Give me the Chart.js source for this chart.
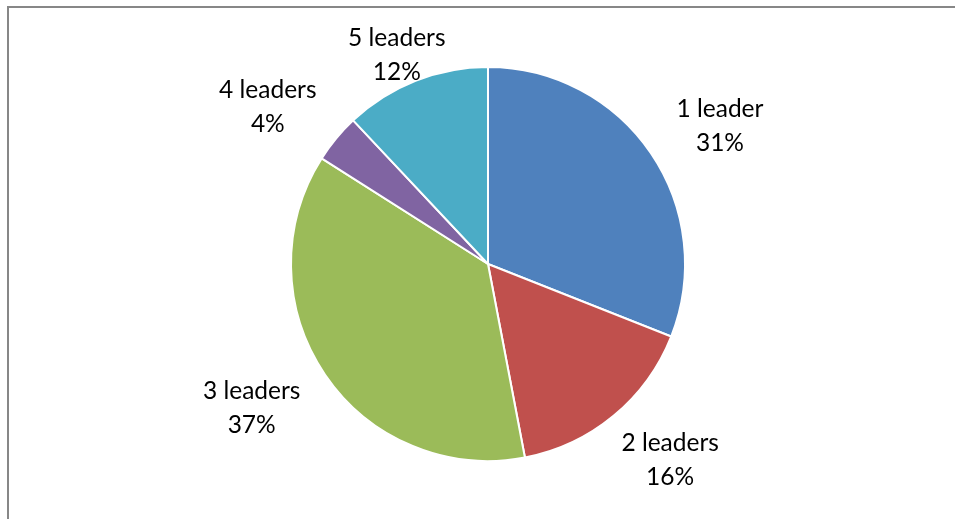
<!DOCTYPE html>
<html>
<head>
<meta charset="utf-8">
<script src="https://cdn.jsdelivr.net/npm/chart.js@4.4.0/dist/chart.umd.min.js"></script>
<style>
  html, body { margin: 0; padding: 0; background: #fff; }
  #wrap { width: 955px; height: 519px; position: relative; }
</style>
</head>
<body>
<div id="wrap"><canvas id="pieChart" width="955" height="519"></canvas></div>
<script>
const categories = ['1 leader', '2 leaders', '3 leaders', '4 leaders', '5 leaders'];
const shares = [31, 16, 37, 4, 12];
const sliceColors = ['#4F81BD', '#C0504D', '#9BBB59', '#8064A2', '#4BACC6'];

// outer frame like the office chart area
const framePlugin = {
    id: 'frame',
    beforeDraw(chart) {
        const ctx = chart.ctx;
        ctx.save();
        ctx.strokeStyle = '#878787';
        ctx.lineWidth = 2;
        ctx.strokeRect(8, 7, chart.width + 20, chart.height + 20);
        ctx.restore();
    }
};

// two-line labels placed outside each slice
const outsideLabels = {
    id: 'outsideLabels',
    afterDatasetsDraw(chart) {
        const ctx = chart.ctx;
        const meta = chart.getDatasetMeta(0);
        const total = shares.reduce((a, b) => a + b, 0);
        ctx.save();
        ctx.font = '24.5px Lato, "Open Sans", sans-serif';
        ctx.fillStyle = '#000';
        ctx.textAlign = 'center';
        ctx.textBaseline = 'middle';
        const lineH = 34;
        meta.data.forEach((arc, i) => {
            const mid = (arc.startAngle + arc.endAngle) / 2;
            const dx = Math.cos(mid), dy = Math.sin(mid);
            const line1 = categories[i];
            const line2 = Math.round(shares[i] / total * 100) + '%';
            const hw = Math.max(ctx.measureText(line1).width, ctx.measureText(line2).width) / 2;
            const hh = lineH;
            let x = arc.x + dx * (arc.outerRadius + 40 + hw);
            let y = arc.y + dy * (arc.outerRadius + 20 + hh) + 3;
            if (y - hh < 20) {
                y = 21 + hh;
                x += 14;
            }
            ctx.fillText(line1, x, y - lineH / 2);
            ctx.fillText(line2, x, y + lineH / 2);
        });
        ctx.restore();
    }
};

new Chart(document.getElementById('pieChart'), {
    type: 'pie',
    data: {
        labels: categories,
        datasets: [{
            data: shares,
            backgroundColor: sliceColors,
            borderColor: '#ffffff',
            borderWidth: 2
        }]
    },
    options: {
        responsive: false,
        animation: false,
        layout: {
            padding: { top: 66, bottom: 57, left: 290, right: 269 }
        },
        plugins: {
            legend: { display: false },
            tooltip: { enabled: false }
        }
    },
    plugins: [framePlugin, outsideLabels]
});
</script>
</body>
</html>
